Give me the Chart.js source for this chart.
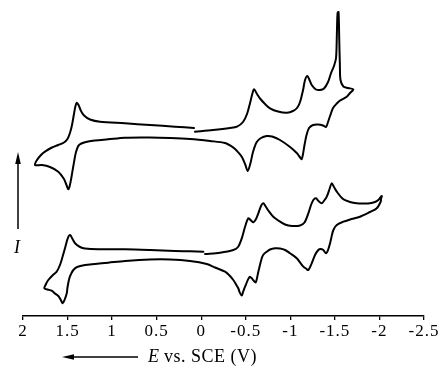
<!DOCTYPE html>
<html>
<head>
<meta charset="utf-8">
<script src="https://cdn.jsdelivr.net/npm/chart.js@4/dist/chart.umd.min.js"></script>
<style>
  html, body { margin: 0; padding: 0; background: #fff; }
  #wrap { width: 443px; height: 368px; }
</style>
</head>
<body>
<div id="wrap"><canvas id="cv" width="443" height="368"></canvas></div>
<script>
// potential axis ticks (V vs. SCE), drawn from +2 on the left to -2.5 on the right
var xTicks = [2, 1.5, 1, 0.5, 0, -0.5, -1, -1.5, -2, -2.5];

// upper voltammogram: scan starts near 0 V, goes negative, comes back through +1.9 V
var topE = [0.070, -0.132, -0.323, -0.402, -0.469, -0.514, -0.548, -0.576, -0.593, -0.626,
  -0.660, -0.716, -0.772, -0.862, -0.963, -1.030, -1.075, -1.109, -1.143, -1.165,
  -1.191, -1.215, -1.244, -1.288, -1.333, -1.378, -1.423, -1.457, -1.490, -1.513,
  -1.522, -1.530, -1.541, -1.549, -1.556, -1.563, -1.595, -1.648, -1.707, -1.670,
  -1.633, -1.558, -1.521, -1.479, -1.446, -1.423, -1.401, -1.367, -1.311, -1.255,
  -1.210, -1.182, -1.159, -1.128, -1.098, -1.072, -0.997, -0.884, -0.795, -0.735,
  -0.671, -0.623, -0.581, -0.553, -0.522, -0.492, -0.455, -0.402, -0.357, -0.267,
  -0.099, 0.126, 0.350, 0.575, 0.855, 1.046, 1.192, 1.293, 1.371, 1.405,
  1.433, 1.456, 1.476, 1.492, 1.512, 1.540, 1.604, 1.697, 1.787, 1.865,
  1.843, 1.798, 1.753, 1.675, 1.604, 1.540, 1.501, 1.473, 1.450, 1.428,
  1.411, 1.397, 1.377, 1.349, 1.315, 1.248, 1.136, 0.855, 0.575, 0.294, 0.081];
var topI = [18.43, 18.6, 18.8, 18.93, 19.4, 20.2, 21.3, 22.3, 22.67, 22.2,
  21.75, 21.2, 20.77, 20.45, 20.33, 20.5, 20.8, 21.4, 22.6, 23.6,
  24.0, 23.6, 23.05, 22.65, 22.6, 22.75, 23.4, 24.3, 25.0, 25.8,
  28.1, 30.3, 30.4, 27.6, 25.1, 23.6, 22.95, 22.8, 22.67, 22.3,
  21.93, 21.55, 21.25, 20.8, 20.0, 19.4, 18.9, 19.05, 19.15, 19.1,
  18.8, 18.1, 17.1, 15.7, 16.0, 16.3, 16.9, 17.6, 17.95, 18.0,
  17.8, 17.4, 16.4, 15.3, 14.5, 15.2, 15.93, 16.5, 16.87, 17.3,
  17.5, 17.7, 17.8, 17.85, 17.83, 17.67, 17.55, 17.4, 17.1, 16.4,
  15.1, 13.9, 13.0, 12.67, 13.1, 13.7, 14.43, 14.9, 15.1, 15.1,
  15.6, 16.1, 16.43, 16.85, 17.1, 17.35, 17.7, 18.3, 19.1, 20.2,
  21.0, 21.33, 21.1, 20.5, 20.05, 19.65, 19.42, 19.27, 19.1, 18.93, 18.8];

// lower voltammogram
var bottomE = [-0.043, -0.211, -0.360, -0.413, -0.455, -0.492, -0.529, -0.559, -0.585, -0.615,
  -0.641, -0.671, -0.697, -0.727, -0.753, -0.806, -0.865, -0.941, -1.019, -1.109,
  -1.159, -1.202, -1.232, -1.258, -1.288, -1.316, -1.352, -1.384, -1.409, -1.440,
  -1.465, -1.490, -1.521, -1.595, -1.670, -1.745, -1.816, -1.894, -1.950, -1.987,
  -2.026, -2.018, -2.014, -1.970, -1.894, -1.782, -1.670, -1.595, -1.521, -1.483,
  -1.462, -1.446, -1.423, -1.401, -1.370, -1.339, -1.314, -1.277, -1.240, -1.202,
  -1.176, -1.146, -1.072, -0.997, -0.941, -0.884, -0.828, -0.772, -0.735, -0.699,
  -0.679, -0.641, -0.612, -0.587, -0.567, -0.542, -0.492, -0.469, -0.455, -0.430,
  -0.416, -0.385, -0.360, -0.312, -0.267, -0.155, -0.062, 0.126, 0.350, 0.575,
  0.855, 1.043, 1.192, 1.304, 1.393, 1.435, 1.461, 1.480, 1.500, 1.509,
  1.534, 1.554, 1.579, 1.604, 1.641, 1.678, 1.725, 1.761, 1.742, 1.716,
  1.669, 1.622, 1.585, 1.557, 1.529, 1.498, 1.472, 1.444, 1.416, 1.360,
  1.304, 1.155, 0.855, 0.575, 0.294, 0.126, -0.024];
var bottomI = [6.2, 6.33, 6.6, 6.9, 7.77, 8.93, 9.77, 9.55, 9.37, 9.7,
  10.27, 11.0, 11.27, 10.9, 10.55, 9.95, 9.55, 9.15, 9.0, 9.05,
  9.35, 10.27, 11.1, 11.6, 11.77, 11.5, 11.27, 11.6, 11.93, 12.7,
  13.27, 12.9, 12.43, 11.67, 11.4, 11.27, 11.25, 11.27, 11.4, 11.6,
  12.0, 11.7, 11.43, 10.77, 10.4, 9.93, 9.65, 9.43, 9.1, 8.6,
  7.9, 7.27, 6.6, 6.27, 6.6, 6.7, 6.6, 6.1, 5.27, 4.6,
  4.75, 4.93, 5.77, 6.27, 6.6, 6.75, 6.77, 6.65, 6.43, 6.15,
  5.77, 4.43, 3.37, 3.55, 3.77, 3.9, 2.93, 2.4, 2.05, 2.4,
  2.77, 3.25, 3.6, 4.1, 4.43, 4.85, 5.2, 5.5, 5.65, 5.65,
  5.5, 5.33, 5.2, 5.1, 4.9, 4.6, 4.2, 3.77, 2.9, 2.27,
  1.6, 1.27, 1.65, 2.0, 2.25, 2.53, 2.65, 2.77, 3.2, 3.6,
  4.05, 4.43, 5.1, 5.9, 6.77, 7.77, 8.1, 7.7, 7.27, 6.9,
  6.75, 6.67, 6.67, 6.6, 6.5, 6.47, 6.43];

function toPoints(es, is) {
    var pts = [];
    for (var i = 0; i < es.length; i++) {
        pts.push({ x: es[i], y: is[i] });
    }
    return pts;
}

var serif = '"Liberation Serif", "Times New Roman", serif';

// the printed tick labels are loosely spaced
var spacing = {
    id: 'spacing',
    beforeDraw: function(chart) { chart.ctx.letterSpacing = '1px'; },
    afterDraw: function(chart) { chart.ctx.letterSpacing = '0px'; }
};

// arrows and the axis captions (I, E vs. SCE) drawn on top of the chart
var captions = {
    id: 'captions',
    afterDraw: function(chart) {
        var ctx = chart.ctx;
        ctx.save();
        ctx.letterSpacing = '0px';
        ctx.strokeStyle = '#000';
        ctx.fillStyle = '#000';
        ctx.lineWidth = 1.5;

        // current arrow, pointing up
        ctx.beginPath();
        ctx.moveTo(18, 229);
        ctx.lineTo(18, 160);
        ctx.stroke();
        ctx.beginPath();
        ctx.moveTo(18, 152);
        ctx.lineTo(15.2, 164);
        ctx.lineTo(20.8, 164);
        ctx.closePath();
        ctx.fill();

        ctx.font = 'italic 18px ' + serif;
        ctx.textAlign = 'center';
        ctx.textBaseline = 'middle';
        ctx.fillText('I', 17, 248);

        // scan direction arrow, pointing left
        var ay = 357;
        ctx.beginPath();
        ctx.moveTo(138, ay);
        ctx.lineTo(70, ay);
        ctx.stroke();
        ctx.beginPath();
        ctx.moveTo(62, ay);
        ctx.lineTo(74, ay - 2.8);
        ctx.lineTo(74, ay + 2.8);
        ctx.closePath();
        ctx.fill();

        ctx.textAlign = 'left';
        ctx.font = 'italic 18px ' + serif;
        ctx.fillText('E', 148, ay);
        var w = ctx.measureText('E').width;
        ctx.font = '18px ' + serif;
        ctx.letterSpacing = '0.5px';
        ctx.fillText(' vs. SCE (V)', 148 + w, ay);
        ctx.restore();
    }
};

new Chart(document.getElementById('cv'), {
    type: 'scatter',
    data: {
        datasets: [{
            data: toPoints(topE, topI)
        }, {
            data: toPoints(bottomE, bottomI)
        }]
    },
    options: {
        responsive: false,
        animation: false,
        devicePixelRatio: 1,
        showLine: true,
        layout: { padding: { left: 23, right: 19, top: 8, bottom: 0 } },
        elements: {
            point: { radius: 0 },
            line: {
                borderColor: '#000',
                borderWidth: 2,
                tension: 0.3,
                borderJoinStyle: 'round',
                borderCapStyle: 'round'
            }
        },
        plugins: {
            legend: { display: false },
            tooltip: { enabled: false }
        },
        scales: {
            x: {
                type: 'linear',
                min: -2.5,
                max: 2,
                reverse: true,
                afterFit: function(scale) { scale.height = 52; },
                afterBuildTicks: function(scale) {
                    scale.ticks = xTicks.map(function(v) { return { value: v }; });
                },
                border: { display: true, color: '#000', width: 1.5 },
                grid: {
                    display: true,
                    drawOnChartArea: false,
                    drawTicks: true,
                    tickLength: 4,
                    color: '#000',
                    lineWidth: 1.3
                },
                ticks: {
                    padding: 1,
                    color: '#000',
                    maxRotation: 0,
                    autoSkip: false,
                    font: { family: serif, size: 17 },
                    callback: function(v) { return String(v); }
                }
            },
            y: {
                display: false,
                min: 0,
                max: 30.8
            }
        }
    },
    plugins: [spacing, captions]
});
</script>
</body>
</html>
